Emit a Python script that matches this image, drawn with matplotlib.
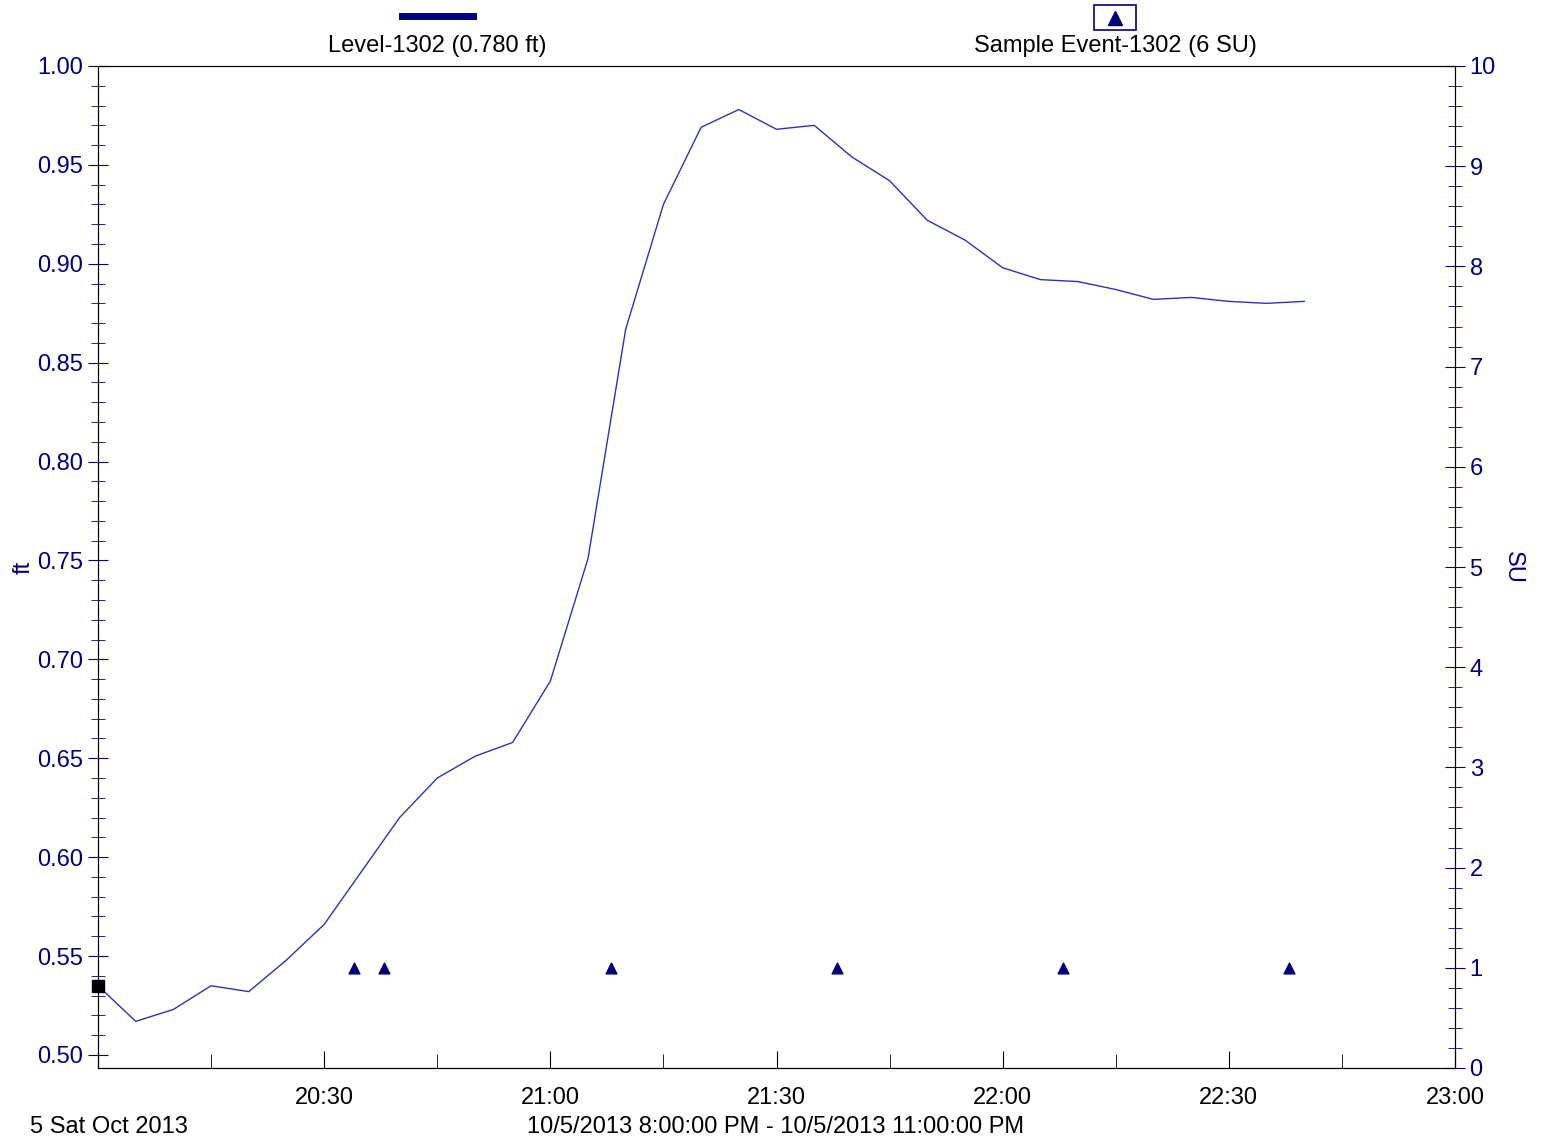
import matplotlib
matplotlib.use("Agg")
import matplotlib.pyplot as plt
import matplotlib.dates as mdates
from matplotlib.ticker import MultipleLocator
import pandas as pd

plt.rcParams['font.family'] = ['Liberation Sans', 'DejaVu Sans']
navy = '#00007f'
fs = 17

# level, every 5 minutes from 20:00
level = [0.535, 0.517, 0.523, 0.535, 0.532, 0.548, 0.566, 0.593, 0.620, 0.640,
         0.651, 0.658, 0.689, 0.751, 0.867, 0.930, 0.969, 0.978, 0.968, 0.970,
         0.954, 0.942, 0.922, 0.912, 0.898, 0.892, 0.891, 0.887, 0.882, 0.883,
         0.881, 0.880, 0.881]
t_level = pd.date_range('2013-10-05 20:00', periods=len(level), freq='5min')

sample_times = pd.to_datetime(['2013-10-05 20:34', '2013-10-05 20:38', '2013-10-05 21:08',
                               '2013-10-05 21:38', '2013-10-05 22:08', '2013-10-05 22:38'])
sample_su = [1, 1, 1, 1, 1, 1]

fig = plt.figure(figsize=(15.41, 11.42), dpi=100)
ax = fig.add_axes([98/1541, 1-1068/1142, (1455-98)/1541, (1068-66)/1142])
ax.plot(t_level, level, color='#3030c0', lw=1)
ax.plot(t_level[:1], level[:1], marker='s', color='black', ms=9, clip_on=False)
ax.set_xlim(pd.Timestamp('2013-10-05 20:00'), pd.Timestamp('2013-10-05 23:00'))
ax.set_ylim(0.4934, 1.0)
ax.yaxis.set_major_locator(MultipleLocator(0.05))
ax.yaxis.set_minor_locator(MultipleLocator(0.01))
ax.yaxis.set_major_formatter(plt.FuncFormatter(lambda v, p: f'{v:.2f}'))
ax.xaxis.set_major_locator(mdates.MinuteLocator(byminute=[0, 30]))
ax.xaxis.set_minor_locator(mdates.MinuteLocator(byminute=[15, 45]))
ax.xaxis.set_major_formatter(plt.FuncFormatter(
    lambda v, p: '' if abs(v - mdates.date2num(pd.Timestamp('2013-10-05 20:00'))) < 1e-6
    else mdates.num2date(v).strftime('%H:%M')))
ax.tick_params(axis='y', which='both', direction='inout', colors=navy, labelsize=fs)
ax.tick_params(axis='y', which='major', length=14)
ax.tick_params(axis='y', which='minor', length=10)
ax.tick_params(axis='x', which='both', direction='in', labelsize=fs, labelcolor='black', pad=14)
ax.tick_params(axis='x', which='major', length=12)
ax.tick_params(axis='x', which='minor', length=10)
ax.set_ylabel('ft', color=navy, fontsize=fs, labelpad=2)

ax2 = ax.twinx()
ax2.scatter(sample_times, sample_su, marker='^', color=navy, s=60, zorder=3)
ax2.set_ylim(0, 10)
ax2.yaxis.set_major_locator(MultipleLocator(1))
ax2.yaxis.set_minor_locator(MultipleLocator(0.2))
ax2.tick_params(axis='y', which='both', direction='inout', colors=navy, labelsize=fs)
ax2.tick_params(axis='y', which='major', length=14)
ax2.tick_params(axis='y', which='minor', length=10)
ax2.set_ylabel('SU', color=navy, fontsize=fs, rotation=270, labelpad=20)

# top legend
fig.add_artist(plt.Line2D([402/1541, 473/1541], [1-16/1142]*2, color=navy, lw=5))
fig.text(437/1541, 1-46/1142, 'Level-1302 (0.780 ft)', ha='center', va='center', fontsize=fs)
fig.add_artist(plt.Rectangle((1094/1541, 1-30/1142), 42/1541, 25/1142, fill=False, ec=navy, lw=1.2))
fig.add_artist(plt.Line2D([1115/1541], [1-18/1142], marker='^', color=navy, ms=10))
fig.text(1115/1541, 1-46/1142, 'Sample Event-1302 (6 SU)', ha='center', va='center', fontsize=fs)

fig.text(30/1541, 1-1127/1142, '5 Sat Oct 2013', ha='left', va='center', fontsize=fs)
fig.text(776/1541, 1-1127/1142, '10/5/2013 8:00:00 PM - 10/5/2013 11:00:00 PM',
         ha='center', va='center', fontsize=fs)

fig.savefig('out.png', dpi=100)
